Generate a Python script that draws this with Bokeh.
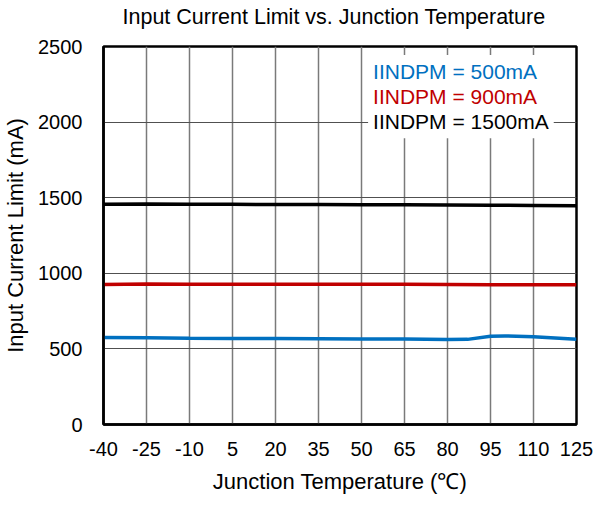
from bokeh.plotting import figure
from bokeh.models import Label, FixedTicker, Range1d, Title
from bokeh.embed import file_html
from bokeh.resources import INLINE

# Junction temperature sweep (°C) and measured input current limit (mA)
temp_500 = [-40, -25, -10, 5, 20, 35, 50, 65, 80, 87, 95, 100, 110, 125]
iin_500 = [575, 574, 571, 569, 568, 567, 566, 565, 562, 563, 583, 586, 580, 564]

temp_900 = [-40, -25, -10, 5, 20, 35, 50, 65, 80, 95, 110, 125]
iin_900 = [926, 929, 928, 928, 928, 928, 927, 927, 926, 925, 925, 924]

temp_1500 = [-40, -25, -10, 5, 20, 35, 50, 65, 80, 95, 110, 125]
iin_1500 = [1456, 1458, 1457, 1456, 1455, 1455, 1454, 1453, 1452, 1450, 1449, 1447]

x_ticks = [-40, -25, -10, 5, 20, 35, 50, 65, 80, 95, 110, 125]
y_ticks = [0, 500, 1000, 1500, 2000, 2500]

series_labels = ["IINDPM = 500mA", "IINDPM = 900mA", "IINDPM = 1500mA"]
series_colors = ["#0070C0", "#C00000", "#000000"]

title_text = "Input Current Limit vs. Junction Temperature"
x_label = "Junction Temperature (\u2103)"
y_label = "Input Current Limit (mA)"

FONT = "Liberation Sans"

p = figure(width=596, height=507, output_backend="svg", toolbar_location=None,
           x_range=Range1d(-40, 125), y_range=Range1d(0, 2500),
           min_border_left=103, min_border_right=20,
           min_border_top=46, min_border_bottom=83)
p.title = None

# blank gap between frame and title (innermost panel above the frame)
p.add_layout(Title(text=" ", text_font_size="14px", standoff=0), "above")
p.add_layout(Title(text=title_text, align="left", offset=19, standoff=0,
                   text_font=FONT, text_font_size="21.5px",
                   text_font_style="normal", text_color="#000000"), "above")

for ax in (p.xaxis[0], p.yaxis[0]):
    ax.major_label_text_font = FONT
    ax.major_label_text_font_size = "20px"
    ax.major_label_text_color = "#000000"
    ax.axis_label_text_font = FONT
    ax.axis_label_text_font_size = "22px"
    ax.axis_label_text_font_style = "normal"
    ax.axis_label_text_color = "#000000"
    ax.axis_line_color = "#000000"
    ax.axis_line_width = 2.5
    ax.major_tick_out = 0
    ax.major_tick_in = 0
    ax.minor_tick_out = 0
    ax.minor_tick_in = 0

p.xaxis.ticker = FixedTicker(ticks=x_ticks)
p.yaxis.ticker = FixedTicker(ticks=y_ticks)
# plain hyphen for negative temperatures
p.xaxis.major_label_overrides = {t: str(t) for t in x_ticks}
p.xaxis.axis_label = x_label
p.yaxis.axis_label = y_label
p.xaxis.major_label_standoff = 17
p.yaxis.major_label_standoff = 21
p.xaxis.axis_label_standoff = 10
p.yaxis.axis_label_standoff = 7

p.xgrid.ticker = FixedTicker(ticks=x_ticks)
p.ygrid.ticker = FixedTicker(ticks=y_ticks)
p.xgrid.grid_line_color = "#7a7a7a"
p.xgrid.grid_line_width = 1.5
p.ygrid.grid_line_color = "#505050"
p.ygrid.grid_line_width = 1.2

p.outline_line_color = "#000000"
p.outline_line_width = 2.5
p.background_fill_color = "#ffffff"
p.border_fill_color = "#ffffff"

p.line(temp_1500, iin_1500, line_color=series_colors[2], line_width=3.5)
p.line(temp_900, iin_900, line_color=series_colors[1], line_width=3.5)
p.line(temp_500, iin_500, line_color=series_colors[0], line_width=3.5)

# Series captions in the upper right, on a white backing
label_y = [2335, 2167, 2002]
for text, color, y in zip(series_labels, series_colors, label_y):
    p.add_layout(Label(x=52.3, y=y, text=text, text_color=color,
                       text_font=FONT, text_font_size="21px",
                       text_baseline="middle", text_align="left",
                       background_fill_color="#ffffff", padding=5))

open("out.html", "w").write(file_html(p, INLINE))
